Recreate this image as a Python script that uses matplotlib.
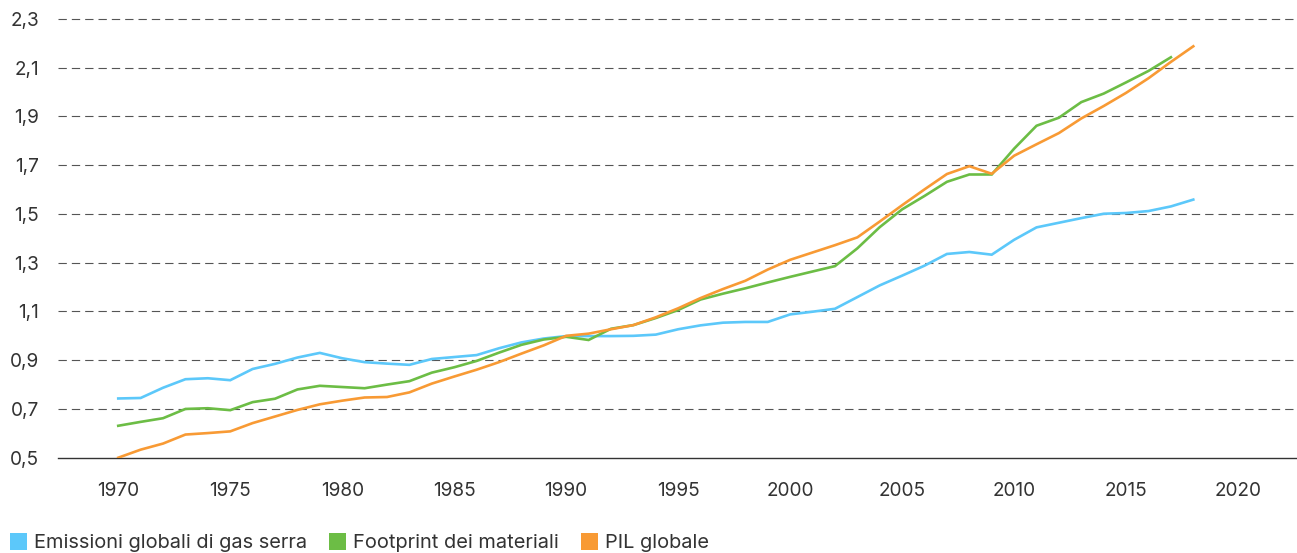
import matplotlib
matplotlib.use("Agg")
from matplotlib import pyplot as plt
from matplotlib.patches import Patch
import numpy as np

years = list(range(1970, 2019))

# indice 1990 = 1
emissioni = [0.743, 0.745, 0.787, 0.822, 0.826, 0.818, 0.864, 0.885, 0.911, 0.930,
             0.908, 0.892, 0.886, 0.881, 0.905, 0.913, 0.921, 0.949, 0.973, 0.989,
             0.999, 0.999, 0.999, 1.000, 1.005, 1.027, 1.043, 1.054, 1.057, 1.057,
             1.088, 1.099, 1.111, 1.159, 1.207, 1.247, 1.288, 1.336, 1.344, 1.333,
             1.394, 1.445, 1.464, 1.483, 1.501, 1.504, 1.512, 1.531, 1.559]

footprint = [0.631, 0.647, 0.662, 0.700, 0.703, 0.695, 0.728, 0.742, 0.780, 0.795,
             0.790, 0.785, 0.800, 0.814, 0.849, 0.871, 0.897, 0.931, 0.963, 0.985,
             0.996, 0.983, 1.029, 1.044, 1.073, 1.106, 1.149, 1.173, 1.195, 1.219,
             1.242, 1.264, 1.286, 1.359, 1.446, 1.519, 1.574, 1.632, 1.662, 1.662,
             1.768, 1.862, 1.895, 1.959, 1.994, 2.040, 2.087, 2.143]

pil = [0.500, 0.533, 0.558, 0.595, 0.601, 0.608, 0.642, 0.669, 0.696, 0.719,
       0.734, 0.747, 0.749, 0.768, 0.804, 0.833, 0.861, 0.892, 0.927, 0.961,
       1.000, 1.009, 1.027, 1.044, 1.076, 1.113, 1.155, 1.192, 1.226, 1.272,
       1.312, 1.342, 1.372, 1.404, 1.469, 1.536, 1.601, 1.664, 1.696, 1.665,
       1.739, 1.786, 1.832, 1.892, 1.943, 1.997, 2.057, 2.124, 2.188]

labels = ["Emissioni globali di gas serra", "Footprint dei materiali", "PIL globale"]
colors = ["#5cc8fa", "#6cbd45", "#f89a34"]

xticks = list(range(1970, 2021, 5))
yticks = [0.5, 0.7, 0.9, 1.1, 1.3, 1.5, 1.7, 1.9, 2.1, 2.3]

plt.rcParams['font.family'] = ['Inter', 'DejaVu Sans']
text_col = "#333333"

fig = plt.figure(figsize=(12.97, 5.53), dpi=100)
ax = fig.add_axes([58 / 1297, 1 - 457.7 / 553, 1 - 58 / 1297, (457.7 - 19) / 553])

series = [emissioni, footprint, pil]
for vals, c in zip(series, colors):
    ax.plot(years[:len(vals)], vals, color=c, lw=1.9, solid_joinstyle='miter', zorder=3)

ax.set_xlim(1967.31, 2022.63)
ax.set_ylim(0.5, 2.3)

ax.set_xticks(xticks)
ax.set_xticklabels([str(x) for x in xticks])
ax.set_yticks(yticks)
ax.set_yticklabels([f"{v:.1f}".replace(".", ",") for v in yticks])
ax.tick_params(axis='both', length=0, labelsize=13.7, colors=text_col)
ax.tick_params(axis='x', pad=17.5)
ax.tick_params(axis='y', pad=13.5)

# griglia tratteggiata
for v in yticks[1:]:
    ax.axhline(v, color="#555555", lw=0.8, ls=(0, (7.5, 4.5)), zorder=1, clip_on=False)

for s in ["top", "right", "left"]:
    ax.spines[s].set_visible(False)
ax.spines["bottom"].set_color("#333333")
ax.spines["bottom"].set_linewidth(1.0)

handles = [Patch(facecolor=c, edgecolor='none') for c in colors]
fig.legend(handles, labels, loc='lower left', bbox_to_anchor=(10 / 1297, 0.001), ncol=3,
           frameon=False, fontsize=14.4, handlelength=0.85, handleheight=0.9,
           handletextpad=0.35, columnspacing=1.1, borderpad=0, borderaxespad=0,
           labelcolor=text_col)

fig.savefig("out.png", dpi=100)
